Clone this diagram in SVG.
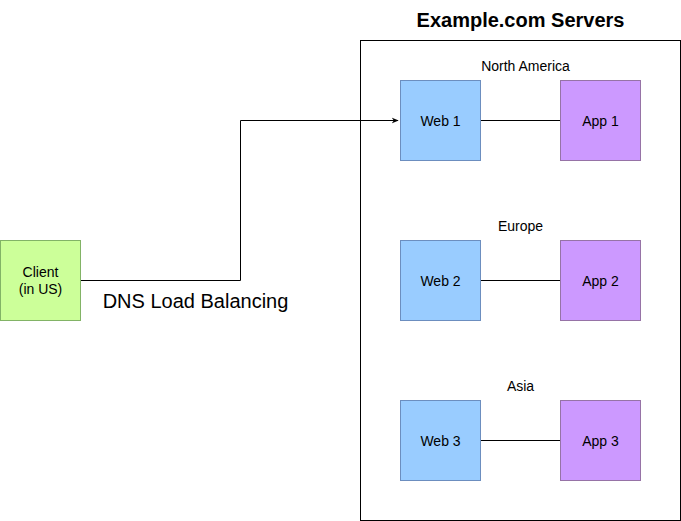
<svg xmlns="http://www.w3.org/2000/svg" width="681" height="521" viewBox="0 0 681 521">
<defs>
<style>
text{font-family:"Liberation Sans",Arial,sans-serif;fill:#000;text-anchor:middle}
.n{font-size:14px}
.web{fill:#99ccff;stroke:#6c8ebf}
.app{fill:#cc99ff;stroke:#9673a6}
.cl{fill:#ccff99;stroke:#82b366}
.ln{fill:none;stroke:#000;stroke-width:1}
</style>
<marker id="arr" viewBox="0 0 10 10" refX="9" refY="5" markerWidth="7" markerHeight="7" orient="auto" markerUnits="userSpaceOnUse">
<path d="M0,1 L10,5 L0,9 L3,5 Z" fill="#000"/>
</marker>
</defs>
<rect width="681" height="521" fill="#fff"/>
<g id="servers">
<rect x="360.5" y="40.5" width="320" height="480" fill="none" stroke="#000"/>
<text x="520.5" y="27" style="font-size:20px;font-weight:bold">Example.com Servers</text>
</g>
<g id="labels">
<text class="n" x="525.5" y="71">North America</text>
<text class="n" x="520.5" y="231">Europe</text>
<text class="n" x="520.5" y="391">Asia</text>
<text x="195.5" y="308" style="font-size:20px">DNS Load Balancing</text>
</g>
<g id="connectors">
<path class="ln" d="M80,280.5 H240.5 V120.5 H398" marker-end="url(#arr)"/>
<path class="ln" d="M480,120.5 H560"/>
<path class="ln" d="M480,280.5 H560"/>
<path class="ln" d="M480,440.5 H560"/>
</g>
<g id="client"><rect class="cl" x="0.5" y="240.5" width="80" height="80"/><text class="n" x="40.5" y="277">Client</text><text class="n" x="40.5" y="294">(in US)</text></g>
<g id="web1"><rect class="web" x="400.5" y="80.5" width="80" height="80"/><text class="n" x="440.5" y="126">Web 1</text></g>
<g id="app1"><rect class="app" x="560.5" y="80.5" width="80" height="80"/><text class="n" x="600.5" y="126">App 1</text></g>
<g id="web2"><rect class="web" x="400.5" y="240.5" width="80" height="80"/><text class="n" x="440.5" y="286">Web 2</text></g>
<g id="app2"><rect class="app" x="560.5" y="240.5" width="80" height="80"/><text class="n" x="600.5" y="286">App 2</text></g>
<g id="web3"><rect class="web" x="400.5" y="400.5" width="80" height="80"/><text class="n" x="440.5" y="446">Web 3</text></g>
<g id="app3"><rect class="app" x="560.5" y="400.5" width="80" height="80"/><text class="n" x="600.5" y="446">App 3</text></g>
</svg>
